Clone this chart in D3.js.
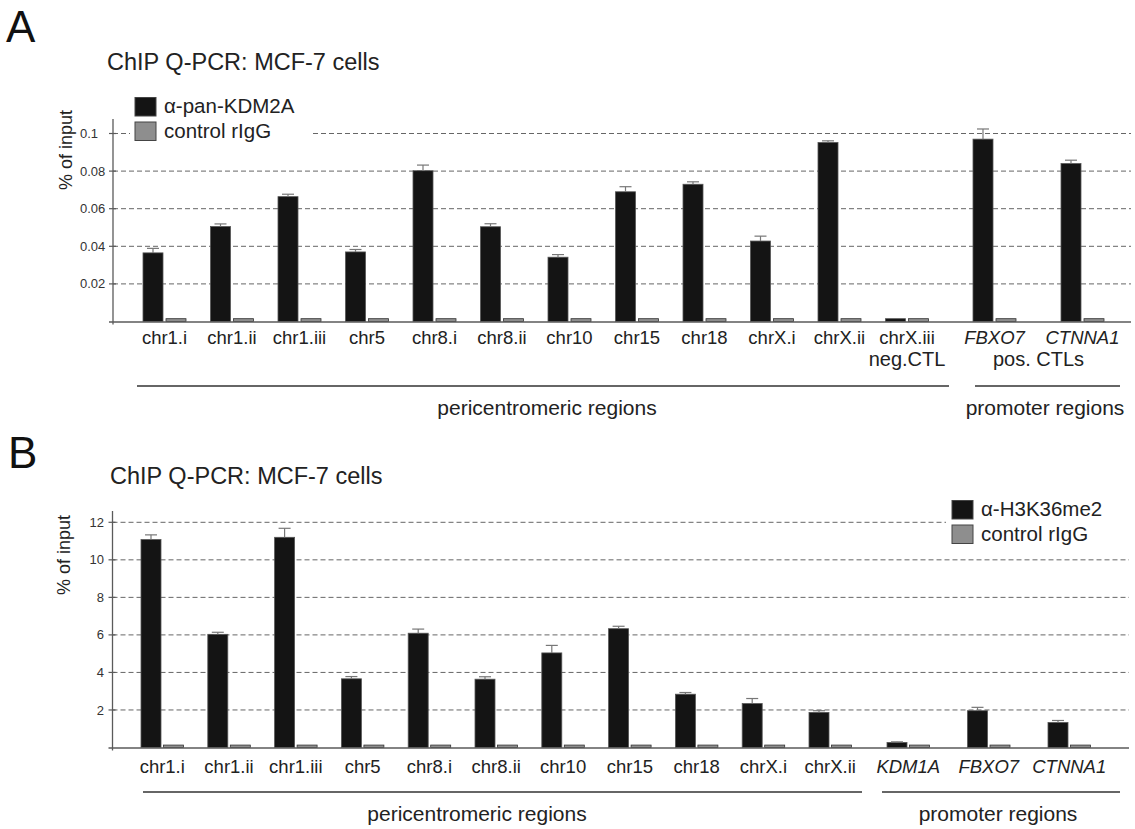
<!DOCTYPE html>
<html>
<head>
<meta charset="utf-8">
<script src="https://cdn.jsdelivr.net/npm/d3@7"></script>
<style>
  html, body { margin: 0; padding: 0; background: #fff; }
  svg { display: block; font-family: "Liberation Sans", Arial, Helvetica, sans-serif; }
</style>
</head>
<body>
<svg id="fig" width="1135" height="829"></svg>
<script>
// ---- Panel A: alpha-pan-KDM2A ChIP (% of input) ----
const pericentromericA = ["chr1.i", "chr1.ii", "chr1.iii", "chr5", "chr8.i", "chr8.ii", "chr10", "chr15", "chr18", "chrX.i", "chrX.ii", "chrX.iii"];
const promoterA = ["FBXO7", "CTNNA1"];
const kdm2aValues = [0.0365, 0.0505, 0.0664, 0.0370, 0.0802, 0.0504, 0.0342, 0.0690, 0.0730, 0.0428, 0.0952, 0.0015, 0.0970, 0.0840];
const kdm2aErrors = [0.0024, 0.0014, 0.0013, 0.0013, 0.0030, 0.0016, 0.0014, 0.0027, 0.0013, 0.0026, 0.0009, 0.0000, 0.0054, 0.0018];
const iggValuesA  = [0.0015, 0.0015, 0.0015, 0.0015, 0.0015, 0.0015, 0.0015, 0.0015, 0.0015, 0.0015, 0.0015, 0.0015, 0.0015, 0.0015];
const ticksA = [0.02, 0.04, 0.06, 0.08, 0.1];
const tickLabelsA = ["0.02", "0.04", "0.06", "0.08", "0.1"];

// ---- Panel B: alpha-H3K36me2 ChIP (% of input) ----
const pericentromericB = ["chr1.i", "chr1.ii", "chr1.iii", "chr5", "chr8.i", "chr8.ii", "chr10", "chr15", "chr18", "chrX.i", "chrX.ii"];
const promoterB = ["KDM1A", "FBXO7", "CTNNA1"];
const h3k36Values = [11.08, 6.03, 11.20, 3.66, 6.09, 3.64, 5.04, 6.33, 2.84, 2.34, 1.87, 0.27, 1.96, 1.33];
const h3k36Errors = [0.25, 0.11, 0.48, 0.12, 0.22, 0.13, 0.40, 0.13, 0.09, 0.27, 0.09, 0.03, 0.18, 0.11];
const iggValuesB  = [0.13, 0.13, 0.13, 0.13, 0.13, 0.13, 0.13, 0.13, 0.13, 0.13, 0.13, 0.13, 0.13, 0.13];
const ticksB = [2, 4, 6, 8, 10, 12];
const tickLabelsB = ["2", "4", "6", "8", "10", "12"];

const svg = d3.select("#fig");
const TEXT = "#222";
const AXIS = "#5a5a5a";
const BLACK = "#141414";
const GRAY = "#8e8e8e";

function drawPanel(p) {
  const g = svg.append("g");

  // panel letter and title
  g.append("text").attr("x", p.letterX).attr("y", p.letterY)
    .attr("font-size", 44).attr("fill", "#111").text(p.letter);
  g.append("text").attr("x", p.titleX).attr("y", p.titleY)
    .attr("font-size", 23.5).attr("fill", TEXT).text("ChIP Q-PCR: MCF-7 cells");

  const y = d3.scaleLinear().domain(p.yDomain).range([p.y0, p.yTop]);

  // dashed gridlines
  g.append("g").selectAll("line").data(p.ticks).join("line")
    .attr("x1", p.axisX).attr("x2", p.gridRight)
    .attr("y1", d => y(d)).attr("y2", d => y(d))
    .attr("stroke", "#666").attr("stroke-width", 1)
    .attr("stroke-dasharray", "5,3");

  // y axis with ticks crossing the spine
  const yAxis = d3.axisLeft(y).tickValues(p.ticks).tickSize(0).tickFormat("");
  const ya = g.append("g").attr("transform", `translate(${p.axisX},0)`).call(yAxis);
  ya.select(".domain").remove();
  g.append("line").attr("x1", p.axisX).attr("x2", p.axisX)
    .attr("y1", p.axisTop).attr("y2", p.y0 + 3)
    .attr("stroke", AXIS).attr("stroke-width", 1.3);
  g.append("g").selectAll("line").data(p.ticks).join("line")
    .attr("x1", p.axisX - 4).attr("x2", p.axisX + 3)
    .attr("y1", d => y(d)).attr("y2", d => y(d))
    .attr("stroke", AXIS).attr("stroke-width", 1.2);
  g.append("g").selectAll("text").data(p.ticks).join("text")
    .attr("x", p.tickLabelX).attr("y", d => y(d))
    .attr("dy", "0.35em").attr("text-anchor", p.tickAnchor)
    .attr("font-size", 13).attr("fill", "#333")
    .text((d, i) => p.tickLabels[i]);

  // y axis title
  g.append("text")
    .attr("transform", `translate(${p.yLabelX},${p.yLabelY}) rotate(-90)`)
    .attr("text-anchor", "middle").attr("dy", "0.35em")
    .attr("font-size", 18).attr("fill", TEXT).text("% of input");

  // category positions: one band scale per region group
  const cats = p.groups.flatMap(gr => gr.cats);
  const xOf = {};
  p.groups.forEach(gr => {
    const xs = d3.scaleBand().domain(gr.cats).range(gr.range).padding(0);
    gr.cats.forEach(c => { xOf[c] = xs(c); });
  });
  const rows = cats.map((c, i) => ({
    cat: c, v: p.values[i], e: p.errors[i], igg: p.igg[i], x: xOf[c],
    italic: p.italicCats.includes(c)
  }));

  // bars
  const bars = g.append("g");
  bars.selectAll("rect.main").data(rows).join("rect").attr("class", "main")
    .attr("x", d => d.x).attr("width", p.barW)
    .attr("y", d => y(d.v)).attr("height", d => y(0) - y(d.v))
    .attr("fill", BLACK).attr("stroke", "#555").attr("stroke-width", 0.8);
  bars.selectAll("rect.igg").data(rows).join("rect").attr("class", "igg")
    .attr("x", d => d.x + p.barW + p.barGap).attr("width", p.barW)
    .attr("y", d => y(d.igg)).attr("height", d => y(0) - y(d.igg))
    .attr("fill", GRAY).attr("stroke", "#333").attr("stroke-width", 0.8);

  // error bars (upper half visible above the bar)
  const eb = g.append("g").attr("stroke", "#777").attr("stroke-width", 1.2);
  eb.selectAll("line.v").data(rows.filter(d => d.e > 0)).join("line").attr("class", "v")
    .attr("x1", d => d.x + p.barW / 2).attr("x2", d => d.x + p.barW / 2)
    .attr("y1", d => y(d.v)).attr("y2", d => y(d.v + d.e));
  eb.selectAll("line.c").data(rows.filter(d => d.e > 0)).join("line").attr("class", "c")
    .attr("x1", d => d.x + p.barW / 2 - 6).attr("x2", d => d.x + p.barW / 2 + 6)
    .attr("y1", d => y(d.v + d.e)).attr("y2", d => y(d.v + d.e));

  // x baseline
  g.append("line").attr("x1", p.axisX - 4).attr("x2", p.gridRight)
    .attr("y1", y(0) + 0.5).attr("y2", y(0) + 0.5)
    .attr("stroke", AXIS).attr("stroke-width", 1.4);

  // category labels
  g.append("g").selectAll("text").data(rows).join("text")
    .attr("x", d => d.x + p.barW + p.barGap / 2)
    .attr("y", p.catLabelY)
    .attr("text-anchor", "middle")
    .attr("font-size", 18.5).attr("fill", TEXT)
    .attr("font-style", d => d.italic ? "italic" : "normal")
    .text(d => d.cat);

  // sub-labels (controls)
  (p.subLabels || []).forEach(s => {
    const cx = d3.mean(s.cats, c => xOf[c] + p.barW + p.barGap / 2);
    g.append("text").attr("x", cx).attr("y", p.subLabelY)
      .attr("text-anchor", "middle").attr("font-size", 20).attr("fill", TEXT)
      .text(s.text);
  });

  // region brackets
  p.regions.forEach(r => {
    g.append("line").attr("x1", r.x1).attr("x2", r.x2)
      .attr("y1", p.regionLineY).attr("y2", p.regionLineY)
      .attr("stroke", "#333").attr("stroke-width", 1.3);
    g.append("text").attr("x", r.labelX).attr("y", p.regionLabelY)
      .attr("text-anchor", "middle").attr("font-size", 21).attr("fill", TEXT)
      .text(r.text);
  });

  // legend
  const L = p.legend;
  if (L.bg) {
    g.append("rect").attr("x", L.bg[0]).attr("y", L.bg[1])
      .attr("width", L.bg[2]).attr("height", L.bg[3]).attr("fill", "#fff");
  }
  const items = [{ label: L.main, fill: BLACK, stroke: "#444" }, { label: "control rIgG", fill: GRAY, stroke: "#444" }];
  items.forEach((it, i) => {
    g.append("rect").attr("x", L.x).attr("y", L.y + i * 24.5)
      .attr("width", 21).attr("height", 18.5)
      .attr("fill", it.fill).attr("stroke", it.stroke).attr("stroke-width", 1);
    g.append("text").attr("x", L.x + 29).attr("y", L.y + 15.5 + i * 24.5)
      .attr("font-size", 20.5).attr("fill", TEXT).text(it.label);
  });
}

drawPanel({
  letter: "A", letterX: 6, letterY: 42,
  titleX: 107, titleY: 70,
  yDomain: [0, 0.1], y0: 321.5, yTop: 133.5,
  ticks: ticksA, tickLabels: tickLabelsA, tickLabelX: 80, tickAnchor: "start",
  axisX: 113, axisTop: 119, gridRight: 1131,
  yLabelX: 66, yLabelY: 150,
  groups: [
    { cats: pericentromericA, range: [143, 143 + 12 * 67.5] },
    { cats: promoterA, range: [973, 973 + 2 * 88] }
  ],
  values: kdm2aValues, errors: kdm2aErrors, igg: iggValuesA,
  italicCats: promoterA,
  barW: 20, barGap: 3,
  catLabelY: 344,
  subLabels: [{ cats: ["chrX.iii"], text: "neg.CTL" }, { cats: promoterA, text: "pos. CTLs" }],
  subLabelY: 366,
  regionLineY: 386,
  regionLabelY: 415,
  regions: [
    { x1: 137, x2: 949, labelX: 547, text: "pericentromeric regions" },
    { x1: 975, x2: 1120, labelX: 1045, text: "promoter regions" }
  ],
  legend: { x: 135, y: 97.5, main: "\u03b1-pan-KDM2A", bg: [130, 94, 180, 52] }
});

drawPanel({
  letter: "B", letterX: 8, letterY: 468,
  titleX: 110, titleY: 484,
  yDomain: [0, 12], y0: 747.5, yTop: 522.3,
  ticks: ticksB, tickLabels: tickLabelsB, tickLabelX: 104, tickAnchor: "end",
  axisX: 112.5, axisTop: 511, gridRight: 1129,
  yLabelX: 64, yLabelY: 555,
  groups: [
    { cats: pericentromericB, range: [141, 141 + 11 * 66.8] },
    { cats: promoterB, range: [887, 887 + 3 * 80.5] }
  ],
  values: h3k36Values, errors: h3k36Errors, igg: iggValuesB,
  italicCats: promoterB,
  barW: 20, barGap: 2.5,
  catLabelY: 773,
  subLabels: [],
  subLabelY: 0,
  regionLineY: 792,
  regionLabelY: 821,
  regions: [
    { x1: 143, x2: 862, labelX: 477, text: "pericentromeric regions" },
    { x1: 882, x2: 1120, labelX: 998, text: "promoter regions" }
  ],
  legend: { x: 952, y: 500.5, main: "\u03b1-H3K36me2", bg: [946, 497, 189, 50] }
});
</script>
</body>
</html>
